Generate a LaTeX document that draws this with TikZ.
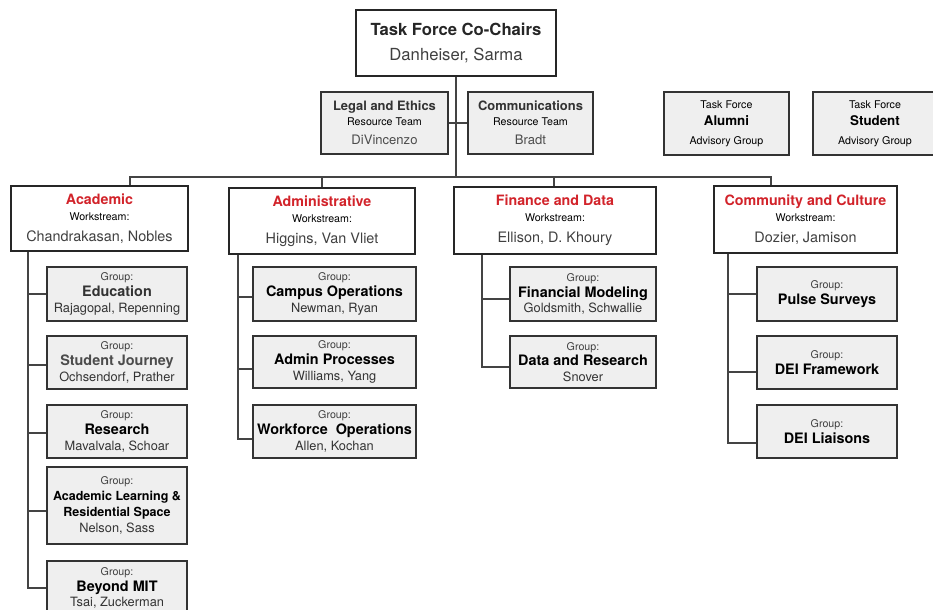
\documentclass[tikz,border=0pt]{standalone}
\usepackage{fontspec}
\setmainfont{TeX Gyre Heros}
\definecolor{wsred}{HTML}{D2232A}
\definecolor{boxgray}{HTML}{EFEFEF}
\definecolor{linegray}{HTML}{444444}
\newdimen\px \px=0.75pt
\newcommand{\fsz}[1]{\fontsize{#1}{12}\selectfont}
\newcommand{\grouptext}[2]{{\fsz{8}\color{black!75}Group:}\\{\bfseries\fsz{10.8}#1}\\{\fsz{9.6}\color{black!80}#2}}
\newcommand{\wstext}[2]{{\bfseries\fsz{10.7}\color{wsred}#1}\\{\fsz{8}Workstream:}\\[3.75pt]{\fsz{10.8}\color{black!75}#2}}
\newcommand{\restext}[2]{{\bfseries\fsz{9.7}\color{black!80}#1}\\{\fsz{8}Resource Team}\\[3pt]{\fsz{9.8}\color{black!70}#2}}
\newcommand{\advtext}[1]{{\fsz{8}Task Force}\\{\bfseries\fsz{10}#1}\\[1.5pt]{\fsz{8}Advisory Group}}

\begin{document}
\begin{tikzpicture}[x=0.75pt,y=-0.75pt,
  chairbox/.style={draw=black!85, line width=1.5pt, fill=white, inner sep=0pt,
    align=center, font=\fontsize{12.5}{18.75}\selectfont},
  wsbox/.style={draw=black!85, line width=1.5pt, fill=white, inner sep=0pt,
    align=center, font=\fontsize{10}{12}\selectfont},
  resbox/.style={draw=black!80, line width=1pt, fill=boxgray, inner sep=0pt,
    align=center, font=\fontsize{10}{11.25}\selectfont},
  advbox/.style={resbox, font=\fontsize{10}{12.75}\selectfont},
  grpbox/.style={draw=black!80, line width=1pt, fill=boxgray, inner sep=0pt,
    align=center, font=\fontsize{10}{11.8}\selectfont},
  conn/.style={draw=linegray, line width=1pt}]
\fill[white] (0,0) rectangle (933,610);
\useasboundingbox (0,0) rectangle (933,610);
\clip (0,0) rectangle (933,610);

\node[chairbox, minimum width=200\px, minimum height=66\px] (chairs) at (456,43)
  {{\bfseries\color{black!85}Task Force Co-Chairs}\\{\color{black!75}Danheiser, Sarma}};

\node[resbox, minimum width=127\px, minimum height=62\px] (legal) at (384.5,123) {\restext{Legal and Ethics}{DiVincenzo}};
\node[resbox, minimum width=125\px, minimum height=62\px] (comms) at (530.5,123) {\restext{Communications}{Bradt}};
\node[advbox, minimum width=125\px, minimum height=63\px] (alumni) at (726.5,123.5) {\advtext{Alumni}};
\node[advbox, minimum width=124\px, minimum height=63\px] (student) at (875,123.5) {\advtext{Student}};

\node[wsbox, minimum width=177\px, minimum height=65\px] (acws) at (99.5,218.5) {\wstext{Academic}{Chandrakasan, Nobles}};
\node[wsbox, minimum width=186\px, minimum height=66\px] (adws) at (322,221) {\wstext{Administrative}{Higgins, Van Vliet}};
\node[wsbox, minimum width=202\px, minimum height=67\px] (fdws) at (555,220.5) {\wstext{Finance and Data}{Ellison, D. Khoury}};
\node[wsbox, minimum width=183\px, minimum height=67\px] (ccws) at (805.5,219.5) {\wstext{Community and Culture}{Dozier, Jamison}};

\node[grpbox, minimum width=140\px, minimum height=54\px] (edu) at (117,294) {\grouptext{\color{black!80}Education}{Rajagopal, Repenning}};
\node[grpbox, minimum width=140\px, minimum height=53\px] (journey) at (117,362.5) {\grouptext{\color{black!70}Student Journey}{Ochsendorf, Prather}};
\node[grpbox, minimum width=140\px, minimum height=53\px] (research) at (117,431.5) {\grouptext{Research}{Mavalvala, Schoar}};
\node[grpbox, minimum width=140\px, minimum height=77\px] (spaces) at (117,505.5)
  {{\fsz{8}\color{black!75}Group:}\\{\bfseries\fsz{9.4}Academic Learning \&}\\{\bfseries\fsz{9.4}Residential Space}\\{\fsz{9.6}\color{black!80}Nelson, Sass}};
\node[grpbox, minimum width=140\px, minimum height=54\px] (beyond) at (117,588) {\grouptext{Beyond MIT}{Tsai, Zuckerman}};

\node[grpbox, minimum width=163\px, minimum height=54\px] (campus) at (334.5,294) {\grouptext{Campus Operations}{Newman, Ryan}};
\node[grpbox, minimum width=163\px, minimum height=52\px] (adminproc) at (334.5,362) {\grouptext{Admin Processes}{Williams, Yang}};
\node[grpbox, minimum width=163\px, minimum height=53\px] (workforce) at (334.5,431.5) {\grouptext{Workforce\ \ Operations}{Allen, Kochan}};

\node[grpbox, minimum width=146\px, minimum height=54\px] (finmodel) at (583,294) {\grouptext{Financial Modeling}{Goldsmith, Schwallie}};
\node[grpbox, minimum width=146\px, minimum height=52\px] (datares) at (583,362) {\grouptext{Data and Research}{Snover}};

\node[grpbox, minimum width=140\px, minimum height=54\px] (pulse) at (827,294) {{\fsz{8}\color{black!75}Group:}\\{\bfseries\fsz{10.8}Pulse Surveys}};
\node[grpbox, minimum width=140\px, minimum height=53\px] (deiframe) at (827,362.5) {{\fsz{8}\color{black!75}Group:}\\{\bfseries\fsz{10.8}DEI Framework}};
\node[grpbox, minimum width=140\px, minimum height=53\px] (deiliaison) at (827,431.5) {{\fsz{8}\color{black!75}Group:}\\{\bfseries\fsz{10.8}DEI Liaisons}};

\coordinate (hub) at (456,177);
\draw[conn] (chairs) -- (hub);
\draw[conn] (legal.east) -- (legal.east -| hub);
\draw[conn] (comms.west) -- (comms.west -| hub);
\draw[conn] (hub) -| ([xshift=30.5\px]acws.north);
\draw[conn] (hub) -| (adws.north);
\draw[conn] (hub) -| ([xshift=-1\px]fdws.north);
\draw[conn] (hub) -| ([xshift=-34.5\px]ccws.north);

\coordinate (acspine) at ([xshift=18\px]acws.south west);
\coordinate (adspine) at ([xshift=10\px]adws.south west);
\coordinate (fdspine) at ([xshift=29\px]fdws.south west);
\coordinate (ccspine) at ([xshift=15\px]ccws.south west);
\foreach \g/\d in {edu/0,journey/2.5,research/1.5,spaces/5.5,beyond/0}
  \draw[conn] (acspine) |- ([yshift=-\d\px]\g.west);
\foreach \g/\d in {campus/3,adminproc/7,workforce/7.5}
  \draw[conn] (adspine) |- ([yshift=-\d\px]\g.west);
\foreach \g/\d in {finmodel/5,datares/5}
  \draw[conn] (fdspine) |- ([yshift=-\d\px]\g.west);
\foreach \g/\d in {pulse/0,deiframe/9.5,deiliaison/11.5}
  \draw[conn] (ccspine) |- ([yshift=-\d\px]\g.west);
\end{tikzpicture}
\end{document}
